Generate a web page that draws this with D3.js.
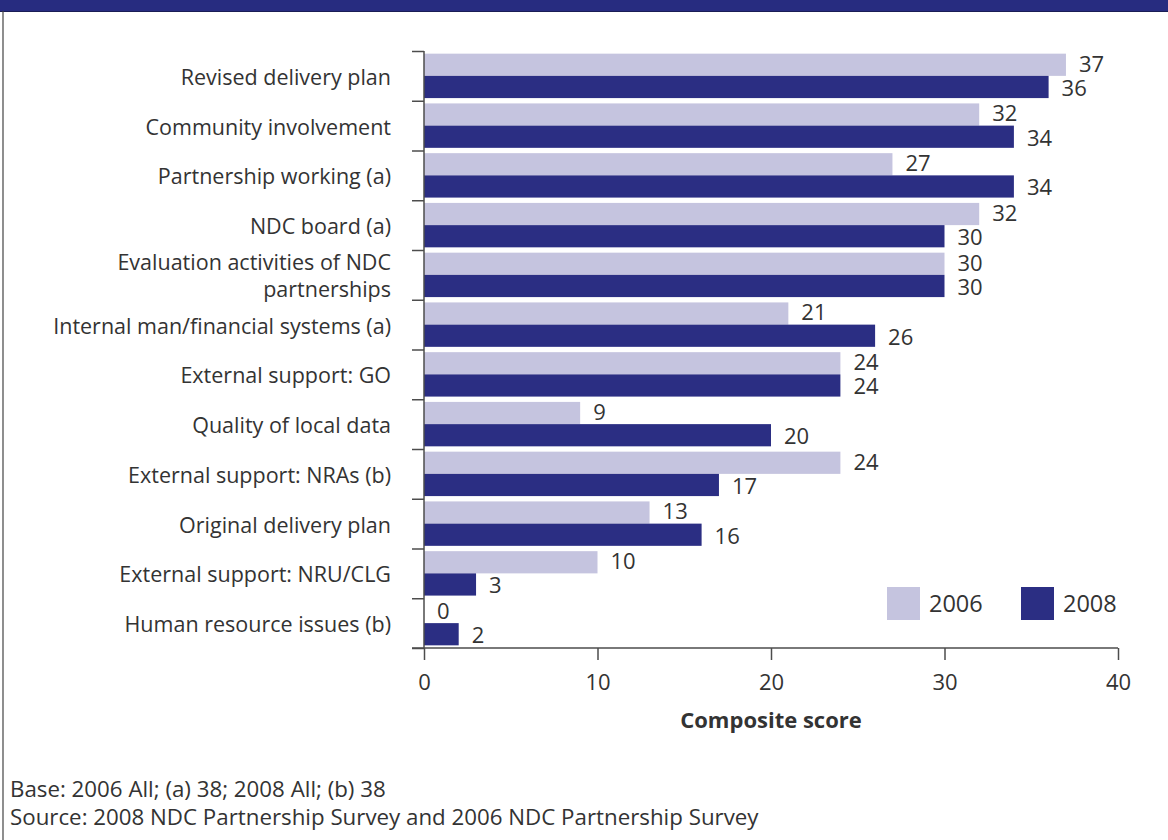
<!DOCTYPE html>
<html><head><meta charset="utf-8">
<script src="https://cdn.jsdelivr.net/npm/d3@7"></script>
<style>
html,body{margin:0;padding:0;background:#fff;}
svg text{font-family:"Open Sans","Noto Sans",sans-serif;fill:#333;}
</style></head>
<body><svg id="c" width="1168" height="840"></svg>
<script>
const categories = [
  "Revised delivery plan",
  "Community involvement",
  "Partnership working (a)",
  "NDC board (a)",
  "Evaluation activities of NDC|partnerships",
  "Internal man/financial systems (a)",
  "External support: GO",
  "Quality of local data",
  "External support: NRAs (b)",
  "Original delivery plan",
  "External support: NRU/CLG",
  "Human resource issues (b)"
];
const values2006 = [37, 32, 27, 32, 30, 21, 24, 9, 24, 13, 10, 0];
const values2008 = [36, 34, 34, 30, 30, 26, 24, 20, 17, 16, 3, 2];
const seriesNames = ["2006", "2008"];
const xTicks = [0, 10, 20, 30, 40];
const xTitle = "Composite score";
const notes = ["Base: 2006 All; (a) 38; 2008 All; (b) 38",
               "Source: 2008 NDC Partnership Survey and 2006 NDC Partnership Survey"];

const colors = {"2006": "#c5c4df", "2008": "#2b2e83"};
const svg = d3.select("#c");

// frame
svg.append("rect").attr("x", 0).attr("y", 0).attr("width", 1168).attr("height", 11).attr("fill", "#272c80");
svg.append("line").attr("x1", 0).attr("x2", 1168).attr("y1", 11.5).attr("y2", 11.5).attr("stroke", "#1a1d55").attr("stroke-width", 1);
svg.append("line").attr("x1", 3).attr("x2", 3).attr("y1", 11).attr("y2", 840).attr("stroke", "#444").attr("stroke-width", 1.2);

const x = d3.scaleLinear().domain([0, 40]).range([424, 1118]);
const y = d3.scaleBand().domain(categories).range([51, 648]).paddingInner(0).paddingOuter(0);
const y1 = d3.scaleBand().domain(seriesNames).range([0, y.bandwidth()]).paddingOuter(0.12).paddingInner(0);
const edges = d3.scaleLinear().domain([0, categories.length]).range([51, 648]);

const data = categories.map((c, i) => ({cat: c, vals: [
  {s: "2006", v: values2006[i]}, {s: "2008", v: values2008[i]}]}));

const g = svg.append("g");
const grp = g.selectAll("g.cat").data(data).join("g").attr("transform", d => `translate(0,${y(d.cat)})`);
grp.selectAll("rect").data(d => d.vals).join("rect")
  .attr("x", x(0)).attr("y", d => y1(d.s)).attr("width", d => x(d.v) - x(0))
  .attr("height", y1.bandwidth()).attr("fill", d => colors[d.s]);
grp.selectAll("text.val").data(d => d.vals).join("text").attr("class", "val")
  .attr("x", d => x(d.v) + 13).attr("y", d => y1(d.s) + y1.bandwidth() / 2 + (d.s === "2006" ? -1 : 1))
  .attr("dy", "0.36em").attr("font-size", 22).text(d => d.v);

// y axis boundary ticks
const yAxis = svg.append("g").attr("transform", `translate(${x(0)},0)`)
  .call(d3.axisLeft(edges).tickValues(d3.range(0, categories.length + 1)).tickSize(12).tickFormat(""));
yAxis.select(".domain").attr("d", `M0,${edges(0)}V${edges(categories.length)}`);
yAxis.selectAll("path,line").attr("stroke", "#4d4d4d").attr("stroke-width", 1.5);

// category labels
const lab = svg.append("g").selectAll("text").data(categories).join("text")
  .attr("text-anchor", "end").attr("font-size", 21.5)
  .attr("transform", d => `translate(391,${y(d) + y.bandwidth() / 2})`);
lab.each(function (d) {
  const lines = d.split("|");
  const t = d3.select(this);
  lines.forEach((ln, i) => {
    t.append("tspan").attr("x", 0).attr("y", (i - (lines.length - 1) / 2) * 27 + 9).text(ln);
  });
});

// x axis
const xAxis = svg.append("g").attr("transform", "translate(0,648)")
  .call(d3.axisBottom(x).tickValues(xTicks).tickSize(12).tickPadding(14).tickFormat(d3.format("d")));
xAxis.select(".domain").attr("d", `M412,0H${x(40)}`);
xAxis.selectAll("path,line").attr("stroke", "#4d4d4d").attr("stroke-width", 1.5);
xAxis.selectAll("text").attr("font-size", 22).attr("fill", "#333").attr("font-family", '"Open Sans",sans-serif');

svg.append("text").attr("x", (x(0) + x(40)) / 2).attr("y", 728).attr("text-anchor", "middle")
  .attr("font-size", 22).attr("font-weight", "bold").text(xTitle);

// legend
const leg = svg.append("g").selectAll("g").data(seriesNames).join("g")
  .attr("transform", (d, i) => `translate(${887 + i * 134},587)`);
leg.append("rect").attr("width", 33).attr("height", 33).attr("fill", d => colors[d]);
leg.append("text").attr("x", 42).attr("y", 17).attr("dy", "0.36em").attr("font-size", 23.5).text(d => d);

// footer
svg.append("g").selectAll("text").data(notes).join("text")
  .attr("x", 10).attr("y", (d, i) => 797 + i * 28).attr("font-size", 22.3).text(d => d);
</script></body></html>
